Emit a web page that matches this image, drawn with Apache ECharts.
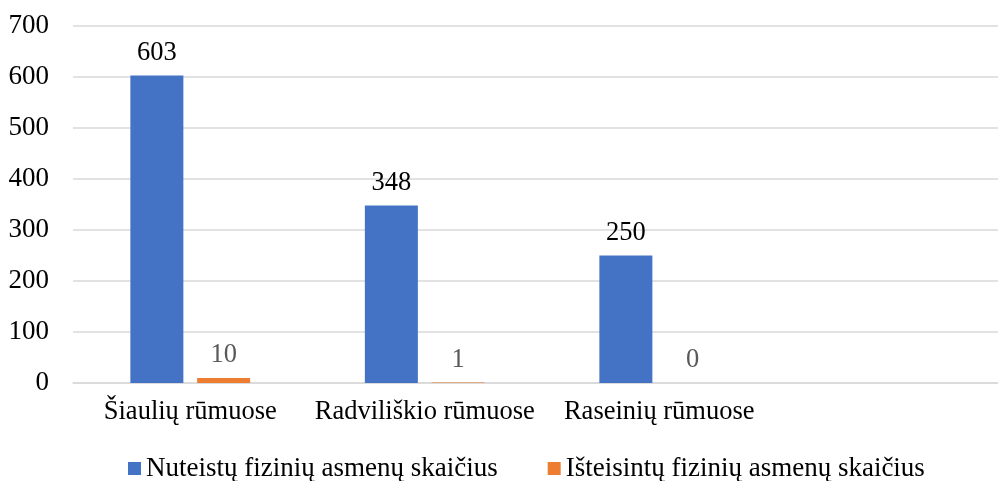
<!DOCTYPE html>
<html>
<head>
<meta charset="utf-8">
<script src="https://cdn.jsdelivr.net/npm/echarts@6/dist/echarts.min.js"></script>
<style>
html,body{margin:0;padding:0;background:#fff;overflow:hidden;width:998px;height:481px;}
#c{width:1011px;height:481px;}
</style>
</head>
<body>
<div id="c"></div>
<script>
const categories = ["Šiaulių rūmuose", "Radviliškio rūmuose", "Raseinių rūmuose", ""];
const convicted = [603, 348, 250, null];
const acquitted = [10, 1, 0, null];
const seriesNames = ["Nuteistų fizinių asmenų skaičius", "Išteisintų fizinių asmenų skaičius"];
const yTicks = [0, 100, 200, 300, 400, 500, 600, 700];

const FONT = "'Liberation Serif', 'Times New Roman', serif";
const chart = echarts.init(document.getElementById('c'), null, {renderer: 'canvas'});
chart.setOption({
  animation: false,
  backgroundColor: '#fff',
  textStyle: {fontFamily: FONT},
  grid: {left: 73, top: 26, right: 0, bottom: 98, containLabel: false},
  legend: {
    top: 450,
    left: 123,
    itemWidth: 13, itemHeight: 13, itemGap: 50,
    icon: 'rect',
    textStyle: {fontFamily: FONT, fontSize: 27, color: '#000'},
    data: seriesNames
  },
  xAxis: {
    type: 'category',
    data: categories,
    axisLine: {lineStyle: {color: '#d9d9d9', width: 1.5}},
    axisTick: {show: false},
    axisLabel: {fontFamily: FONT, fontSize: 26.5, color: '#000', margin: 16, interval: 0}
  },
  yAxis: {
    type: 'value',
    min: yTicks[0], max: yTicks[yTicks.length-1], interval: 100,
    axisLine: {show: false},
    axisTick: {show: false},
    splitLine: {lineStyle: {color: '#d9d9d9', width: 1.5}},
    axisLabel: {fontFamily: FONT, fontSize: 27, color: '#000', margin: 24}
  },
  series: [
    {
      name: seriesNames[0], type: 'bar', data: convicted,
      barWidth: 53, barGap: '26%',
      itemStyle: {color: '#4472C4'},
      label: {show: true, position: 'top', distance: 9, fontFamily: FONT, fontSize: 26.5, color: '#000'}
    },
    {
      name: seriesNames[1], type: 'bar', data: acquitted,
      barWidth: 53,
      itemStyle: {color: '#ED7D31'},
      label: {show: true, position: 'top', distance: 9, fontFamily: FONT, fontSize: 26.5, color: '#595959'}
    }
  ]
});
</script>
</body>
</html>
